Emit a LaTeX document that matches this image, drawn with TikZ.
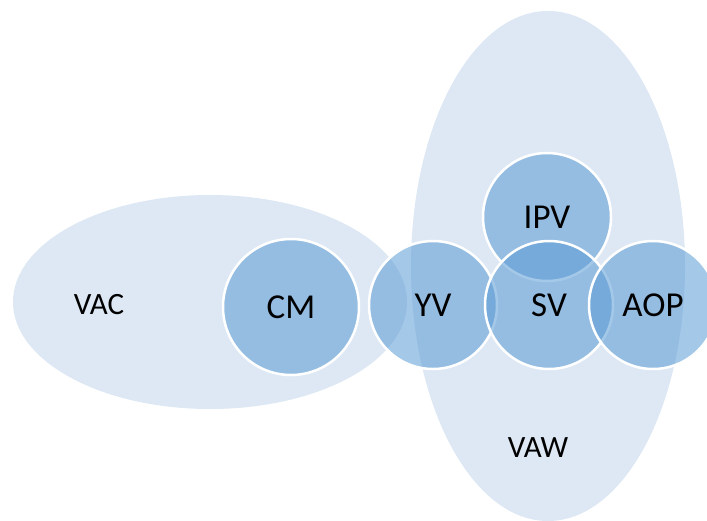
\documentclass[tikz,border=0pt]{standalone}
\usepackage{fontspec}
\setmainfont{Carlito}
\usetikzlibrary{shapes.geometric}
\definecolor{ellfill}{HTML}{DDE8F4}
\definecolor{circfill}{HTML}{5B9BD5}
\tikzset{
  bigell/.style={ellipse, fill=ellfill, draw=none, inner sep=0pt},
  bubble/.style={circle, fill=circfill, fill opacity=0.55, text opacity=1, draw=white, line width=2.5pt, inner sep=0pt, minimum size=128pt, font=\fontsize{35}{40}\selectfont},
  lbl/.style={font=\fontsize{31}{36}\selectfont, inner sep=0pt}
}
\begin{document}
\begin{tikzpicture}[x=1pt,y=-1pt]
\clip (0,0) rectangle (707,520);
\fill[white] (0,0) rectangle (707,520);
\node[bigell, minimum width=394pt, minimum height=214pt] (vac) at (210,302) {};
\node[bigell, minimum width=274pt, minimum height=510pt] (vaw) at (548,266) {};
\node[lbl] (vactxt) at (99,305) {VAC};
\node[lbl] (vawtxt) at (538,448) {VAW};
\node[bubble, minimum size=136pt] (cm) at (291,307) {CM};
\node[bubble] (yv) at (433,305) {YV};
\node[bubble] (ipv) at (547,217) {IPV};
\node[bubble] (sv) at (549,305) {SV};
\node[bubble] (aop) at (653,305) {AOP};
\end{tikzpicture}
\end{document}
